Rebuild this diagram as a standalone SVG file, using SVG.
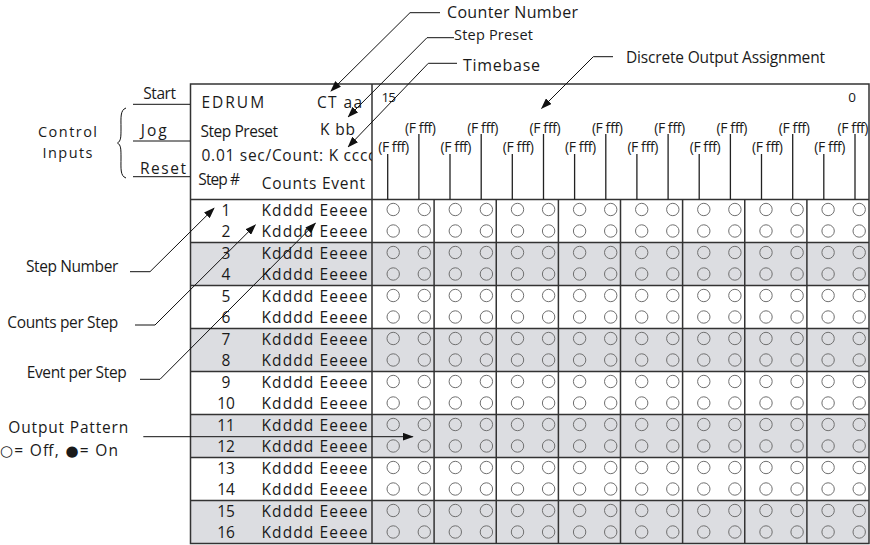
<svg xmlns="http://www.w3.org/2000/svg" xmlns:xlink="http://www.w3.org/1999/xlink" width="870" height="545" viewBox="0 0 870 545">
<style>
text{font-family:"Open Sans","Liberation Sans",sans-serif;fill:#1a1a1a;}
.t{font-size:15.5px;}
.s{font-size:14px;}
.n{font-size:15.5px;text-anchor:middle;}
.sym{font-family:"DejaVu Sans",sans-serif;font-size:15px;}
.grid{stroke:#333;stroke-width:1.5;fill:none;}
.tick{stroke:#222;stroke-width:1.3;}
.lead{stroke:#111;stroke-width:1;fill:none;}
.shade{fill:#dcdde1;}
.c{fill:none;stroke:#707070;stroke-width:1;}
</style>
<defs>
<marker id="ah" markerUnits="userSpaceOnUse" markerWidth="11" markerHeight="8" refX="10" refY="4" orient="auto">
<path d="M0,0 L11,4 L0,8 z" fill="#111"/>
</marker>
<clipPath id="hdrclip"><rect x="190" y="84" width="182" height="116"/></clipPath>
<g id="crow">
<circle class="c" cx="393.2" cy="0" r="6.2"/><circle class="c" cx="424.3" cy="0" r="6.2"/>
<circle class="c" cx="455.3" cy="0" r="6.2"/><circle class="c" cx="486.4" cy="0" r="6.2"/>
<circle class="c" cx="517.5" cy="0" r="6.2"/><circle class="c" cx="548.6" cy="0" r="6.2"/>
<circle class="c" cx="579.6" cy="0" r="6.2"/><circle class="c" cx="610.7" cy="0" r="6.2"/>
<circle class="c" cx="641.7" cy="0" r="6.2"/><circle class="c" cx="672.8" cy="0" r="6.2"/>
<circle class="c" cx="703.8" cy="0" r="6.2"/><circle class="c" cx="734.9" cy="0" r="6.2"/>
<circle class="c" cx="766" cy="0" r="6.2"/><circle class="c" cx="797.1" cy="0" r="6.2"/>
<circle class="c" cx="828.1" cy="0" r="6.2"/><circle class="c" cx="859.2" cy="0" r="6.2"/>
</g>
<g id="rowtxt"><text class="t" x="261.5" y="0" textLength="106">Kdddd Eeeee</text></g>
</defs>
<rect width="870" height="545" fill="#fff"/>

<g id="shading">
<rect class="shade" x="190.5" y="242.5" width="678.5" height="43"/>
<rect class="shade" x="190.5" y="328.5" width="678.5" height="43"/>
<rect class="shade" x="190.5" y="414.5" width="678.5" height="43"/>
<rect class="shade" x="190.5" y="500.5" width="678.5" height="43"/>
</g>

<g id="frame">
<rect class="grid" x="190.5" y="84" width="678.5" height="459.5"/>
<path class="grid" d="M190.5,199.5 H869 M372,84 V543.5"/>
<path class="grid" d="M434.1,199.5 V543.5 M496.25,199.5 V543.5 M558.4,199.5 V543.5 M620.5,199.5 V543.5 M682.6,199.5 V543.5 M744.75,199.5 V543.5 M806.9,199.5 V543.5"/>
<path class="grid" d="M190.5,242.5 H869 M190.5,285.5 H869 M190.5,328.5 H869 M190.5,371.5 H869 M190.5,414.5 H869 M190.5,457.5 H869 M190.5,500.5 H869"/>
</g>

<g id="header">
<text class="t" x="201.5" y="107.5" textLength="62.6">EDRUM</text>
<text class="t" x="317" y="107.5" textLength="45">CT aa</text>
<text class="t" x="200.5" y="137" textLength="77.6">Step Preset</text>
<text class="t" x="320" y="135" textLength="35">K bb</text>
<text class="t" x="201.5" y="160.5" textLength="174" clip-path="url(#hdrclip)">0.01 sec/Count: K cccc</text>
<text class="t" x="198.3" y="185" textLength="41.7">Step #</text>
<text class="t" x="261.7" y="189.3" textLength="103.3">Counts Event</text>
</g>

<g id="output-header">
<text x="381.5" y="101.7" style="font-size:13.5px" textLength="14.5">15</text>
<text x="848.3" y="101.7" style="font-size:13.5px">0</text>
<path class="tick" d="M387.7,154 V199.5 M418.9,134 V199.5 M450,154 V199.5 M481.2,134 V199.5 M512.3,154 V199.5 M543.5,134 V199.5 M574.6,154 V199.5 M605.8,134 V199.5 M636.9,154 V199.5 M668.1,134 V199.5 M699.2,154 V199.5 M730.4,134 V199.5 M761.5,154 V199.5 M792.7,134 V199.5 M823.8,154 V199.5 M855,134 V199.5"/>
<g class="s" text-anchor="middle">
<text x="393.7" y="151.7" textLength="31">(F fff)</text>
<text x="456" y="151.7" textLength="31">(F fff)</text>
<text x="518.3" y="151.7" textLength="31">(F fff)</text>
<text x="580.6" y="151.7" textLength="31">(F fff)</text>
<text x="642.9" y="151.7" textLength="31">(F fff)</text>
<text x="705.2" y="151.7" textLength="31">(F fff)</text>
<text x="767.5" y="151.7" textLength="31">(F fff)</text>
<text x="829.8" y="151.7" textLength="31">(F fff)</text>
<text x="420.5" y="132.7" textLength="31">(F fff)</text>
<text x="482.8" y="132.7" textLength="31">(F fff)</text>
<text x="545.1" y="132.7" textLength="31">(F fff)</text>
<text x="607.4" y="132.7" textLength="31">(F fff)</text>
<text x="669.7" y="132.7" textLength="31">(F fff)</text>
<text x="732" y="132.7" textLength="31">(F fff)</text>
<text x="794.3" y="132.7" textLength="31">(F fff)</text>
<text x="853" y="132.7" textLength="31">(F fff)</text>
</g>
</g>

<g id="rows">
<use href="#crow" y="209.5"/><use href="#crow" y="231"/>
<use href="#crow" y="252.5"/><use href="#crow" y="274"/>
<use href="#crow" y="295.5"/><use href="#crow" y="317"/>
<use href="#crow" y="338.5"/><use href="#crow" y="360"/>
<use href="#crow" y="381.5"/><use href="#crow" y="403"/>
<use href="#crow" y="424.5"/><use href="#crow" y="446"/>
<use href="#crow" y="467.5"/><use href="#crow" y="489"/>
<use href="#crow" y="510.5"/><use href="#crow" y="532"/>
<use href="#rowtxt" y="215.5"/><use href="#rowtxt" y="237"/>
<use href="#rowtxt" y="258.5"/><use href="#rowtxt" y="280"/>
<use href="#rowtxt" y="301.5"/><use href="#rowtxt" y="323"/>
<use href="#rowtxt" y="344.5"/><use href="#rowtxt" y="366"/>
<use href="#rowtxt" y="387.5"/><use href="#rowtxt" y="409"/>
<use href="#rowtxt" y="430.5"/><use href="#rowtxt" y="452"/>
<use href="#rowtxt" y="473.5"/><use href="#rowtxt" y="495"/>
<use href="#rowtxt" y="516.5"/><use href="#rowtxt" y="538"/>
<text class="n" x="226" y="215.5">1</text><text class="n" x="226" y="237">2</text>
<text class="n" x="226" y="258.5">3</text><text class="n" x="226" y="280">4</text>
<text class="n" x="226" y="301.5">5</text><text class="n" x="226" y="323">6</text>
<text class="n" x="226" y="344.5">7</text><text class="n" x="226" y="366">8</text>
<text class="n" x="226" y="387.5">9</text><text class="n" x="226" y="409">10</text>
<text class="n" x="226" y="430.5">11</text><text class="n" x="226" y="452">12</text>
<text class="n" x="226" y="473.5">13</text><text class="n" x="226" y="495">14</text>
<text class="n" x="226" y="516.5">15</text><text class="n" x="226" y="538">16</text>
</g>

<g id="control-inputs">
<text class="t" x="143.3" y="99.3" textLength="32.7">Start</text>
<text class="t" x="140.7" y="135.5" textLength="26">Jog</text>
<text class="t" x="140" y="173.5" textLength="46">Reset</text>
<text x="67.5" y="136.5" text-anchor="middle" style="font-size:14.5px" textLength="59">Control</text>
<text x="67.5" y="157.5" text-anchor="middle" style="font-size:14.5px" textLength="50">Inputs</text>
<path class="lead" d="M126,108 C120,110 121,118 121,128 C121,137 121,141 117.5,143 C121,145 121,149 121,158 C121,168 120,176 126,178"/>
</g>

<g id="labels">
<text x="447" y="18.3" style="font-size:16px" textLength="131">Counter Number</text>
<text x="454" y="40" style="font-size:14.5px" textLength="79">Step Preset</text>
<text x="463" y="71" style="font-size:16px" textLength="77">Timebase</text>
<text class="t" x="626" y="62.7" textLength="199">Discrete Output Assignment</text>
<text class="t" x="26" y="271.7" textLength="92.3">Step Number</text>
<text class="t" x="7.3" y="328.3" textLength="111">Counts per Step</text>
<text class="t" x="26.7" y="378.3" textLength="100">Event per Step</text>
<text class="t" x="8.3" y="432.5" textLength="120">Output Pattern</text>
<text class="t" x="0" y="456" textLength="118"><tspan class="sym">○</tspan>= Off, <tspan class="sym">●</tspan>= On</text>
</g>

<g id="connectors">
<path class="lead" d="M133,104.3 H190 M133,141 H190 M133,176.7 H190"/>
<path class="lead" marker-end="url(#ah)" d="M440,12.7 H410 L331,91"/>
<path class="lead" marker-end="url(#ah)" d="M454,37.7 H427 L348.3,116.7"/>
<path class="lead" marker-end="url(#ah)" d="M457,63.3 H428.3 L348.3,146.7"/>
<path class="lead" marker-end="url(#ah)" d="M613,56.7 H593.3 L541.7,108.3"/>
<path class="lead" marker-end="url(#ah)" d="M130,271.7 H150 L214,208.3"/>
<path class="lead" marker-end="url(#ah)" d="M135,325 H155 L255.3,225"/>
<path class="lead" marker-end="url(#ah)" d="M140,379.3 H160 L315.3,223.3"/>
<path class="lead" marker-end="url(#ah)" d="M143.3,436.7 H412.7"/>
</g>
</svg>
